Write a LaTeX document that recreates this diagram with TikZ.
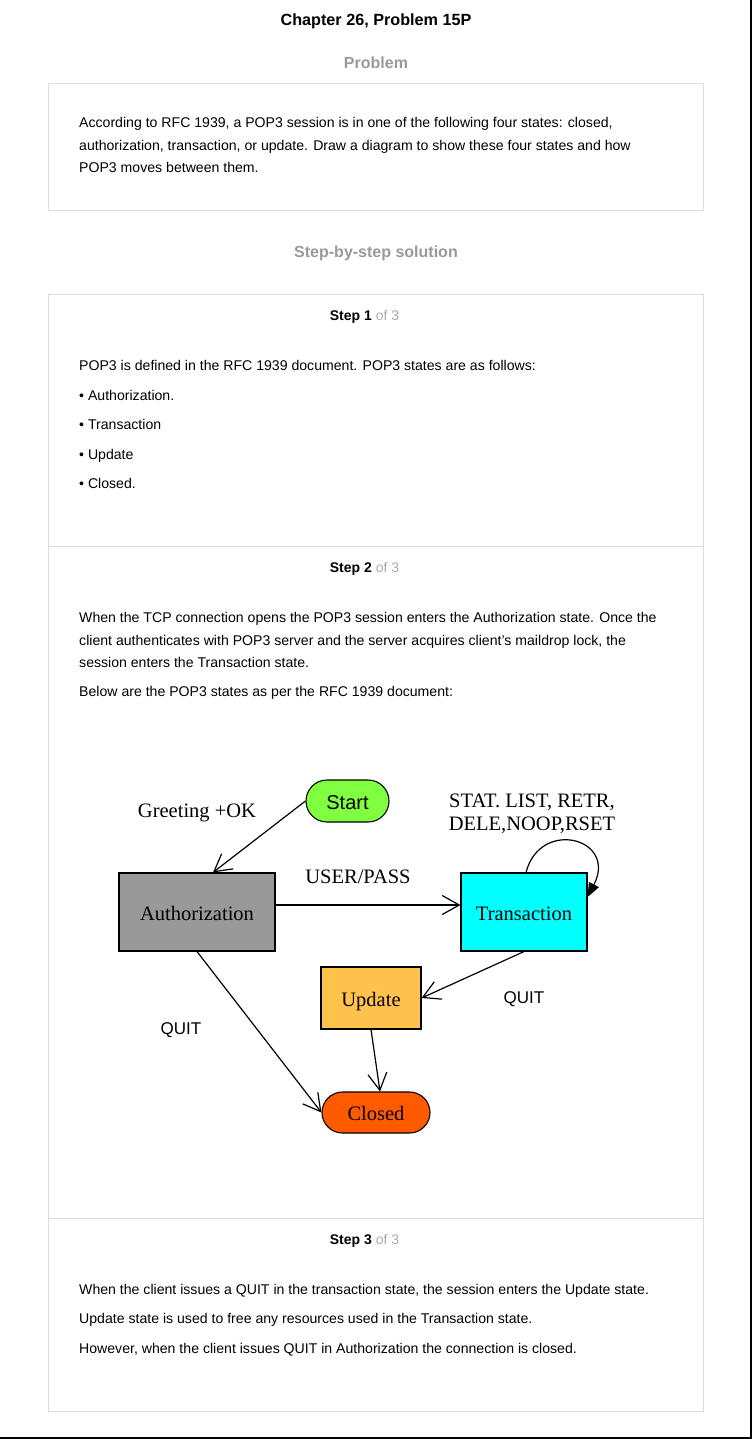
\documentclass[tikz,border=0pt]{standalone}
\usepackage{fontspec}
\setmainfont{Liberation Sans}
\newfontfamily\serifstate{Liberation Serif}
\usepackage{tikz}
\usetikzlibrary{%
  arrows.meta,%
  shapes.misc,% wg. rounded rectangle
  positioning%
}
\definecolor{boxgray}{HTML}{DDDDDD}
\definecolor{headgray}{HTML}{999999}
\definecolor{ofgray}{HTML}{AAAAAA}
\definecolor{authgray}{HTML}{999999}
\definecolor{transcyan}{HTML}{00FFFF}
\definecolor{startgreen}{HTML}{80FF40}
\definecolor{updorange}{HTML}{FFC34D}
\definecolor{closedred}{HTML}{FF5A00}

\begin{document}
\begin{tikzpicture}[x=1pt,y=-1pt,
    txt/.style={anchor=base west, inner sep=0pt, font=\fontsize{14.1}{16}\selectfont},
    head/.style={inner sep=0pt, font=\fontsize{16}{18}\selectfont\bfseries, text=headgray},
    stephead/.style={inner sep=0pt, font=\fontsize{14}{16}\selectfont},
    panel/.style={draw=boxgray, line width=1pt},
    st/.style={draw, line width=1.1pt, minimum height=78pt, inner sep=0pt, text height=16pt, text depth=0pt, font=\serifstate\fontsize{20.5}{22}\selectfont},
    lbl/.style={inner sep=0pt, font=\serifstate\fontsize{20.5}{23}\selectfont, align=center},
    flow/.style={line width=1.2pt, -{Straight Barb[length=17pt,width=19pt,line width=1.2pt]}}]
  \useasboundingbox (0,0) rectangle (752,1439);
  \draw[line width=1.5pt] (751.2,0) -- (751.2,1437.8) -- (0,1437.8);

  % headings
  \node[inner sep=0pt, font=\fontsize{16.2}{18}\selectfont\bfseries] (title) at (376,21) {Chapter 26, Problem 15P};
  \node[head] (problem) at (376,63) {Problem};
  \node[head] (solution) at (376,253) {Step-by-step solution};

  % problem box
  \draw[panel] (48,84) rectangle (703,211);
  \node[txt] (p1) at (79,128) {According to RFC 1939, a POP3 session is in one of the following four states: closed,};
  \node[txt] (p2) at (79,151) {authorization, transaction, or update. Draw a diagram to show these four states and how};
  \node[txt] (p3) at (79,173) {POP3 moves between them.};

  % solution box
  \draw[panel] (48,294) rectangle (703,1411);
  \draw[panel] (48,546) -- (703,546);
  \draw[panel] (48,1218) -- (703,1218);

  % step 1
  \node[stephead] (s1) at (364.5,317) {\textbf{Step 1} \textcolor{ofgray}{of 3}};
  \node[txt] (a1) at (79,370) {POP3 is defined in the RFC 1939 document. POP3 states are as follows:};
  \node[txt] (b1) at (79,400) {• Authorization.};
  \node[txt] (b2) at (79,429) {• Transaction};
  \node[txt] (b3) at (79,459) {• Update};
  \node[txt] (b4) at (79,488) {• Closed.};

  % step 2
  \node[stephead] (s2) at (364.5,569) {\textbf{Step 2} \textcolor{ofgray}{of 3}};
  \node[txt] (c1) at (79,622) {When the TCP connection opens the POP3 session enters the Authorization state. Once the};
  \node[txt] (c2) at (79,645) {client authenticates with POP3 server and the server acquires client’s maildrop lock, the};
  \node[txt] (c3) at (79,667) {session enters the Transaction state.};
  \node[txt] (c4) at (79,696) {Below are the POP3 states as per the RFC 1939 document:};

  % states
  \node[draw, rounded rectangle, fill=startgreen, line width=1.1pt, minimum width=83pt, minimum height=42pt, inner sep=0pt, text height=16pt, text depth=0pt, font=\fontsize{20}{22}\selectfont] (start) at (347.5,801) {Start};
  \node[st, fill=authgray, minimum width=156pt] (auth) at (197,912) {Authorization};
  \node[st, fill=transcyan, minimum width=126pt] (trans) at (524,912) {Transaction};
  \node[st, fill=updorange, minimum width=100pt, minimum height=62pt] (upd) at (371,998) {Update};
  \node[st, rounded rectangle, fill=closedred, minimum width=108pt, minimum height=41pt] (closed) at (376,1112.5) {Closed};

  % labels
  \node[lbl] (greet) at (197,813) {Greeting +OK};
  \node[lbl] (userpass) at (358,877) {USER/PASS};
  \node[lbl] (cmds) at (532,814) {STAT. LIST, RETR,\\DELE,NOOP,RSET};
  \node[inner sep=0pt, font=\fontsize{17}{19}\selectfont] (quitt) at (524,999) {QUIT};
  \node[inner sep=0pt, font=\fontsize{17}{19}\selectfont] (quita) at (181,1030) {QUIT};

  % transitions
  \draw[flow] (start.west) -- ([xshift=16pt]auth.north);
  \draw[flow] ([yshift=7pt]auth.east) -- ([yshift=7pt]trans.west);
  \draw[flow] (trans.south) -- (upd.east);
  \draw[flow] (upd.south) -- ([xshift=4pt]closed.north);
  \draw[flow] (auth.south) -- (closed.west);
  \draw[line width=1.2pt, -{Triangle[length=14pt,width=11pt]}]
    ([xshift=2pt]trans.north) .. controls (540,818) and (618,838) .. ([yshift=15pt]trans.east);

  % step 3
  \node[stephead] (s3) at (364.5,1241) {\textbf{Step 3} \textcolor{ofgray}{of 3}};
  \node[txt] (d1) at (79,1294) {When the client issues a QUIT in the transaction state, the session enters the Update state.};
  \node[txt] (d2) at (79,1323) {Update state is used to free any resources used in the Transaction state.};
  \node[txt] (d3) at (79,1353) {However, when the client issues QUIT in Authorization the connection is closed.};
\end{tikzpicture}
\end{document}
